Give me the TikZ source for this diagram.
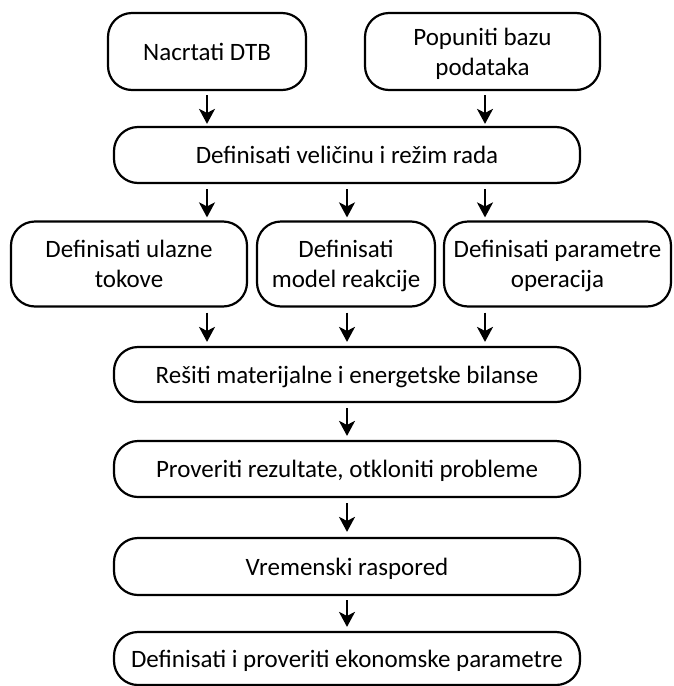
\documentclass[tikz,border=0pt]{standalone}
\usepackage{fontspec}
\setmainfont{Carlito}
\usetikzlibrary{arrows.meta}
\begin{document}
\begin{tikzpicture}[x=1pt,y=-1pt,
  box/.style={draw,line width=2.2pt,rounded corners=24pt,align=center,
    inner sep=0pt,text depth=0pt,font=\fontsize{25}{30}\selectfont},
  arr/.style={line width=2pt,-{Stealth[length=15pt,width=16pt,inset=4pt]}}]
\useasboundingbox (0,0) rectangle (673,686);
\node[box,minimum width=198pt,minimum height=77pt] (b1) at (207,51.5) {Nacrtati DTB};
\node[box,minimum width=235pt,minimum height=77pt] (b2) at (482.5,51.5) {Popuniti bazu\\podataka};
\node[box,minimum width=466pt,minimum height=56pt] (b3) at (347,155) {Definisati veličinu i režim rada};
\node[box,minimum width=236pt,minimum height=85pt] (b4) at (129,264) {Definisati ulazne\\tokove};
\node[box,minimum width=178pt,minimum height=85pt] (b5) at (346,264) {Definisati\\model reakcije};
\node[box,minimum width=227pt,minimum height=85pt] (b6) at (557.5,264) {Definisati parametre\\operacija};
\node[box,minimum width=466pt,minimum height=55pt] (b7) at (347,374.5) {Rešiti materijalne i energetske bilanse};
\node[box,minimum width=466pt,minimum height=56pt] (b8) at (347,469) {Proveriti rezultate, otkloniti probleme};
\node[box,minimum width=466pt,minimum height=57pt] (b9) at (347,566.5) {Vremenski raspored};
\node[box,minimum width=466pt,minimum height=53pt] (b10) at (347,658.5) {Definisati i proveriti ekonomske parametre};
\coordinate (cA) at (207,0);
\coordinate (cB) at (347,0);
\coordinate (cC) at (485,0);
\draw[arr] ([yshift=-4pt]b1.south -| cA) -- ([yshift=2pt]b3.north -| cA);
\draw[arr] ([yshift=-4pt]b2.south -| cC) -- ([yshift=2pt]b3.north -| cC);
\draw[arr] ([yshift=-5pt]b3.south -| cA) -- ([yshift=3pt]b4.north -| cA);
\draw[arr] ([yshift=-5pt]b3.south -| cB) -- ([yshift=3pt]b5.north -| cB);
\draw[arr] ([yshift=-5pt]b3.south -| cC) -- ([yshift=3pt]b6.north -| cC);
\draw[arr] ([yshift=-5pt]b4.south -| cA) -- ([yshift=4pt]b7.north -| cA);
\draw[arr] ([yshift=-5pt]b5.south -| cB) -- ([yshift=4pt]b7.north -| cB);
\draw[arr] ([yshift=-5pt]b6.south -| cC) -- ([yshift=4pt]b7.north -| cC);
\draw[arr] ([yshift=-5pt]b7.south -| cB) -- ([yshift=4pt]b8.north -| cB);
\draw[arr] ([yshift=-5pt]b8.south -| cB) -- ([yshift=5pt]b9.north -| cB);
\draw[arr] ([yshift=-4pt]b9.south -| cB) -- ([yshift=4pt]b10.north -| cB);
\end{tikzpicture}
\end{document}
